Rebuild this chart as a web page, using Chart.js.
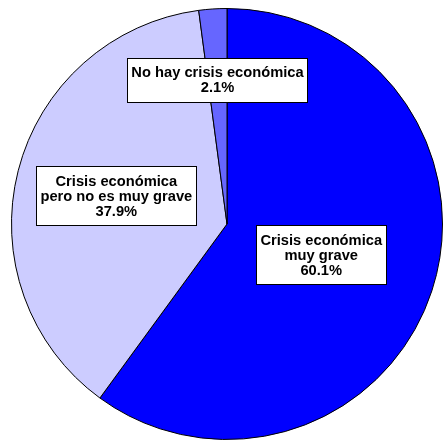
<!DOCTYPE html>
<html>
<head>
<meta charset="utf-8">
<script src="https://cdn.jsdelivr.net/npm/chart.js@4/dist/chart.umd.min.js"></script>
<style>
  html, body { margin: 0; padding: 0; background: #fff; }
</style>
</head>
<body>
<canvas id="pieChart" width="443" height="447"></canvas>
<script>
// categories (split into the lines shown in each label box)
const categories = [
  ['Crisis económica', 'muy grave'],
  ['Crisis económica', 'pero no es muy grave'],
  ['No hay crisis económica']
];
const values = [60.1, 37.9, 2.1];
const colors = ['#0000FF', '#CCCCFF', '#6666FF'];

// how far out (fraction of radius) each label box sits
const labelRadius = [0.46, 0.53, 0.67];

const boxLabels = {
  id: 'boxLabels',
  afterDatasetsDraw(chart) {
    const ctx = chart.ctx;
    const arcs = chart.getDatasetMeta(0).data;
    ctx.save();
    ctx.font = 'bold 14.7px "Liberation Sans", Arial, sans-serif';
    ctx.textAlign = 'center';
    ctx.textBaseline = 'middle';
    arcs.forEach(function(arc, i) {
      const p = arc.getProps(['x', 'y', 'startAngle', 'endAngle', 'outerRadius'], true);
      const mid = (p.startAngle + p.endAngle) / 2;
      const cx = p.x + Math.cos(mid) * p.outerRadius * labelRadius[i];
      const cy = p.y + Math.sin(mid) * p.outerRadius * labelRadius[i];
      const lines = categories[i].concat([values[i].toFixed(1) + '%']);
      const lh = 15;
      let w = 0;
      lines.forEach(l => { w = Math.max(w, ctx.measureText(l).width); });
      const bw = Math.round(w + 8);
      const bh = lines.length * lh + 14;
      const bx = Math.round(cx - bw / 2) + 0.5;
      const by = Math.round(cy - bh / 2) + 0.5;
      ctx.fillStyle = '#fff';
      ctx.fillRect(bx, by, bw, bh);
      ctx.strokeStyle = '#000';
      ctx.lineWidth = 1;
      ctx.strokeRect(bx, by, bw, bh);
      ctx.fillStyle = '#000';
      lines.forEach(function(l, k) {
        ctx.fillText(l, cx, cy - (lines.length - 1) * lh / 2 + k * lh + 1);
      });
    });
    ctx.restore();
  }
};

new Chart(document.getElementById('pieChart').getContext('2d'), {
  type: 'pie',
  data: {
    labels: categories.map(c => c.join(' ')),
    datasets: [{
      data: values,
      backgroundColor: colors,
      borderColor: '#000',
      borderWidth: 1
    }]
  },
  options: {
    responsive: false,
    animation: false,
    layout: { padding: { left: 11, right: 0, top: 8, bottom: 7 } },
    plugins: {
      legend: { display: false },
      tooltip: { enabled: false }
    }
  },
  plugins: [boxLabels]
});
</script>
</body>
</html>
